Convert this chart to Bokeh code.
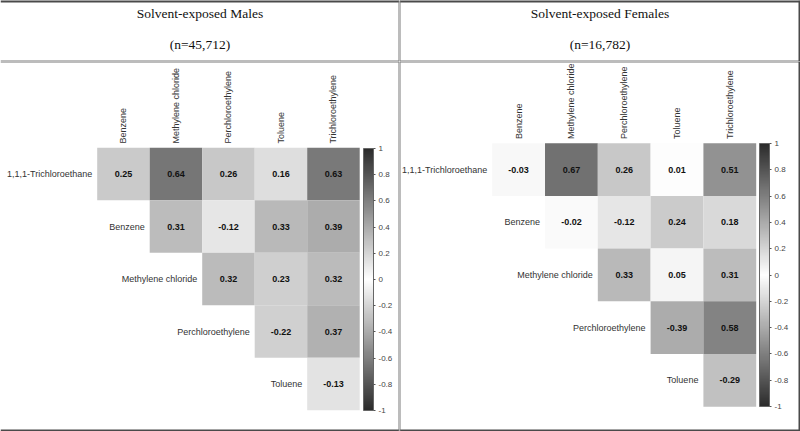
import numpy as np
from bokeh.plotting import figure
from bokeh.models import (ColumnDataSource, LinearColorMapper, ColorBar, FixedTicker,
                          NumeralTickFormatter, Span, Range1d)
from bokeh.layouts import column, row
from bokeh.transform import transform
from bokeh.core.properties import value
from bokeh.embed import file_html
from bokeh.resources import INLINE

# ---------------- data ----------------
row_vars = ["1,1,1-Trichloroethane", "Benzene", "Methylene chloride",
            "Perchloroethylene", "Toluene"]
col_vars = ["Benzene", "Methylene chloride", "Perchloroethylene",
            "Toluene", "Trichloroethylene"]

male_title = "Solvent-exposed Males"
male_n = "(n=45,712)"
male_r = [
    [0.25, 0.64, 0.26, 0.16, 0.63],
    [0.31, -0.12, 0.33, 0.39],
    [0.32, 0.23, 0.32],
    [-0.22, 0.37],
    [-0.13],
]

female_title = "Solvent-exposed Females"
female_n = "(n=16,782)"
female_r = [
    [-0.03, 0.67, 0.26, 0.01, 0.51],
    [-0.02, -0.12, 0.24, 0.18],
    [0.33, 0.05, 0.31],
    [-0.39, 0.58],
    [-0.29],
]

cbar_ticks = [-1, -0.8, -0.6, -0.4, -0.2, 0, 0.2, 0.4, 0.6, 0.8, 1]

# ---------------- style / layout ----------------
WL, WR = 399, 401   # panel widths
HH = 61             # header height
HM = 370            # heatmap panel height
SANS = "Liberation Sans"
SERIF = "Liberation Serif"
OUTER = "#4a4a4a"
INNER = "#7a7a7a"

ts = np.linspace(-1, 1, 255)
palette = []
for t in ts:
    g = int(round(255 - 212 * abs(t)))
    palette.append("#%02x%02x%02x" % (g, g, g))
mapper = LinearColorMapper(palette=palette, low=-1, high=1)


def base_fig(w, h, xr, yr):
    p = figure(width=w, height=h, x_range=xr, y_range=yr,
               x_axis_location=None, y_axis_location=None,
               toolbar_location=None, output_backend="svg",
               min_border=0, outline_line_color=None,
               background_fill_color="white", border_fill_color="white")
    p.grid.visible = False
    return p


def edges(p, x0, x1, ytop, ybot, sides):
    for side, (color, lw) in sides.items():
        if side == "top":
            p.add_layout(Span(location=ytop, dimension="width", line_color=color, line_width=lw))
        elif side == "bottom":
            p.add_layout(Span(location=ybot, dimension="width", line_color=color, line_width=lw))
        elif side == "left":
            p.add_layout(Span(location=x0, dimension="height", line_color=color, line_width=lw))
        elif side == "right":
            p.add_layout(Span(location=x1, dimension="height", line_color=color, line_width=lw))


def header(w, title, n, sides):
    p = base_fig(w, HH, Range1d(0, w), Range1d(HH, 0))
    p.text(x=[w / 2], y=[12.7], text=[title], text_font=value(SERIF),
           text_font_size="13.5px", text_align="center", text_baseline="alphabetic",
           text_color="#111111")
    p.text(x=[w / 2], y=[44], text=[n], text_font=value(SERIF),
           text_font_size="13.5px", text_align="center", text_baseline="alphabetic",
           text_color="#111111")
    edges(p, 0, w, 0, HH, sides)
    return p


def heat(w, r_rows, xr, yr, cb_loc, cb_h, sides):
    xs, ys, vals, labs = [], [], [], []
    for i, rv in enumerate(r_rows):
        for k, v in enumerate(rv):
            xs.append(i + k)
            ys.append(i)
            vals.append(v)
            labs.append("%.2f" % v)
    src = ColumnDataSource(dict(x=xs, y=ys, r=vals, lab=labs))
    p = base_fig(w, HM, Range1d(xr[0], xr[1]), Range1d(yr[1], yr[0]))
    p.rect("x", "y", 1, 1, source=src, fill_color=transform("r", mapper),
           line_color=None)
    p.text("x", "y", text="lab", source=src, text_font=value(SANS),
           text_font_style="bold", text_font_size="9px", text_align="center",
           text_baseline="middle", text_color="#111111")
    gap_r = 0.095
    gap_c = 0.08
    p.text(x=[i - 0.5 - gap_r for i in range(len(row_vars))],
           y=list(range(len(row_vars))), text=row_vars,
           text_font=value(SANS), text_font_size="9px", text_align="right",
           text_baseline="middle", text_color="#333333")
    p.text(x=list(range(len(col_vars))), y=[-0.5 - gap_c] * len(col_vars),
           text=col_vars, angle=np.pi / 2, text_font=value(SANS),
           text_font_size="9px", text_align="left", text_baseline="middle",
           text_color="#333333")
    cb = ColorBar(color_mapper=mapper, location=cb_loc, width=10, height=cb_h,
                  padding=0, ticker=FixedTicker(ticks=cbar_ticks),
                  formatter=NumeralTickFormatter(format="0.[0]"),
                  major_label_text_font=SANS, major_label_text_font_size="8px",
                  major_label_text_color="#444444", label_standoff=3,
                  major_tick_in=0, major_tick_out=2, major_tick_line_color="#555555",
                  minor_tick_line_color=None,
                  bar_line_color="#666666", bar_line_width=1,
                  background_fill_color=None, border_line_color=None)
    p.add_layout(cb, "center")
    edges(p, xr[0], xr[1], yr[0], yr[1], sides)
    return p


h_m = header(WL, male_title, male_n, {"top": (OUTER, 4), "bottom": (INNER, 2),
                                      "right": (INNER, 2)})
h_f = header(WR, female_title, female_n, {"top": (OUTER, 4), "bottom": (INNER, 2),
                                          "left": (INNER, 2), "right": (OUTER, 4)})

m_m = heat(WL, male_r, (-2.342, 5.258), (-2.144, 4.904), (363, 21), 262,
           {"top": (INNER, 2), "bottom": (OUTER, 4), "right": (INNER, 2)})
m_f = heat(WR, female_r, (-2.256, 5.339), (-2.050, 4.971), (360, 25), 263,
           {"top": (INNER, 2), "bottom": (OUTER, 4), "left": (INNER, 2),
            "right": (OUTER, 4)})

layout = column(row(h_m, h_f, spacing=0), row(m_m, m_f, spacing=0), spacing=0)

open("out.html", "w").write(file_html(layout, INLINE))
